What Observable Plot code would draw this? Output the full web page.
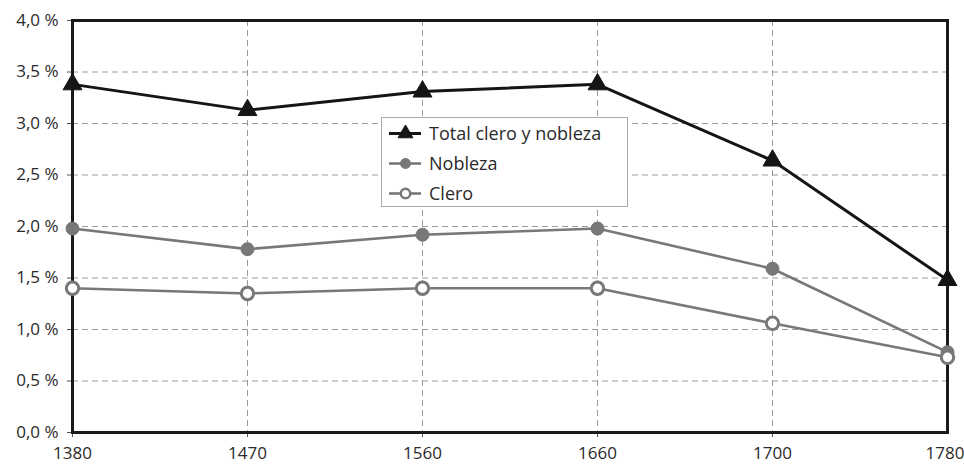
<!DOCTYPE html>
<html>
<head>
<meta charset="utf-8">
<script src="https://cdn.jsdelivr.net/npm/d3@7"></script>
<script src="https://cdn.jsdelivr.net/npm/@observablehq/plot@0.6"></script>
<style>
  html, body { margin: 0; padding: 0; background: #fff; overflow: hidden; }
  #wrap { position: relative; width: 964px; height: 466px; font-family: "Open Sans", sans-serif; }
  #legend { position: absolute; left: 381px; top: 117px; width: 247px; height: 90px; border: 1px solid #aaa; background: #fff; box-sizing: border-box; padding-top: 0px; }
  .item { display: flex; align-items: center; height: 30px; color: #2a2a2a; font-size: 18px; }
  .item svg { margin-left: 7px; margin-right: 8px; }
</style>
</head>
<body>
<div id="wrap"></div>
<script>
const years = ["1380", "1470", "1560", "1660", "1700", "1780"];
const total = [3.38, 3.13, 3.31, 3.38, 2.64, 1.48];
const nobleza = [1.98, 1.78, 1.92, 1.98, 1.59, 0.78];
const clero = [1.40, 1.35, 1.40, 1.40, 1.06, 0.73];
const seriesNames = ["Total clero y nobleza", "Nobleza", "Clero"];
const yTicks = [0, 0.5, 1, 1.5, 2, 2.5, 3, 3.5, 4];

const styles = {
  "Total clero y nobleza": {stroke: "#151515", fill: "#151515", symbol: "triangle", width: 3, r: 7, sw: 1},
  "Nobleza": {stroke: "#787878", fill: "#787878", symbol: "circle", width: 2.6, r: 6.5, sw: 1},
  "Clero": {stroke: "#787878", fill: "#ffffff", symbol: "circle", width: 2.6, r: 6.2, sw: 3}
};

const seriesValues = [total, nobleza, clero];
const rows = [];
seriesNames.forEach((name, i) => {
  years.forEach((y, j) => rows.push({series: name, year: y, value: seriesValues[i][j]}));
});

const fmt = d => d.toFixed(1).replace(".", ",") + " %";
const drawOrder = ["Nobleza", "Clero", "Total clero y nobleza"];
const lastYear = years[years.length - 1];

const marks = [
  Plot.gridY(yTicks, {stroke: "#9a9a9a", strokeOpacity: 1, strokeDasharray: "6,4", strokeWidth: 1}),
  Plot.gridX(years, {stroke: "#9a9a9a", strokeOpacity: 1, strokeDasharray: "6,4", strokeWidth: 1}),
  Plot.axisY({ticks: yTicks, tickFormat: fmt, tickSize: 5, tickPadding: 9, fontSize: 17, color: "#2a2a2a", stroke: "#555"}),
  Plot.axisX(years.slice(0, -1), {tickSize: 5, tickPadding: 9, fontSize: 17, color: "#2a2a2a", stroke: "#555"}),
  Plot.axisX([lastYear], {tickSize: 5, tickPadding: 9, fontSize: 17, color: "#2a2a2a", stroke: "#555", textAnchor: "end", dx: 17})
];
for (const name of drawOrder) {
  const s = styles[name];
  const data = rows.filter(d => d.series === name);
  marks.push(Plot.line(data, {x: "year", y: "value", stroke: s.stroke, strokeWidth: s.width}));
}
marks.push(Plot.frame({stroke: "#1a1a1a", strokeWidth: 3}));
for (const name of drawOrder) {
  const s = styles[name];
  const data = rows.filter(d => d.series === name);
  marks.push(Plot.dot(data, {
    x: "year", y: "value", symbol: s.symbol, r: s.r,
    fill: s.fill, stroke: s.stroke, strokeWidth: s.sw, fillOpacity: 1
  }));
}

const chart = Plot.plot({
  width: 964,
  height: 466,
  marginLeft: 72,
  marginRight: 17,
  marginTop: 20,
  marginBottom: 34,
  style: {fontFamily: "'Open Sans', sans-serif", background: "#fff", color: "#2a2a2a"},
  x: {type: "point", domain: years, padding: 0, label: null},
  y: {domain: [0, 4], label: null},
  marks
});

const wrap = document.getElementById("wrap");
wrap.appendChild(chart);

const legend = document.createElement("div");
legend.id = "legend";
for (const name of seriesNames) {
  const s = styles[name];
  const item = document.createElement("div");
  item.className = "item";
  const sym = Plot.plot({
    width: 32, height: 16, margin: 0,
    x: {domain: [0, 1], axis: null}, y: {domain: [0, 1], axis: null},
    marks: [
      Plot.ruleY([0.5], {x1: 0, x2: 1, stroke: s.stroke, strokeWidth: s.width}),
      Plot.dot([{x: 0.5, y: 0.5}], {x: "x", y: "y", symbol: s.symbol, r: s.r - 1.5, fill: s.fill, stroke: s.stroke, strokeWidth: s.sw === 3 ? 2.4 : 1})
    ]
  });
  sym.style.overflow = "visible";
  item.appendChild(sym);
  const label = document.createElement("span");
  label.textContent = name;
  item.appendChild(label);
  legend.appendChild(item);
}
wrap.appendChild(legend);
</script>
</body>
</html>
